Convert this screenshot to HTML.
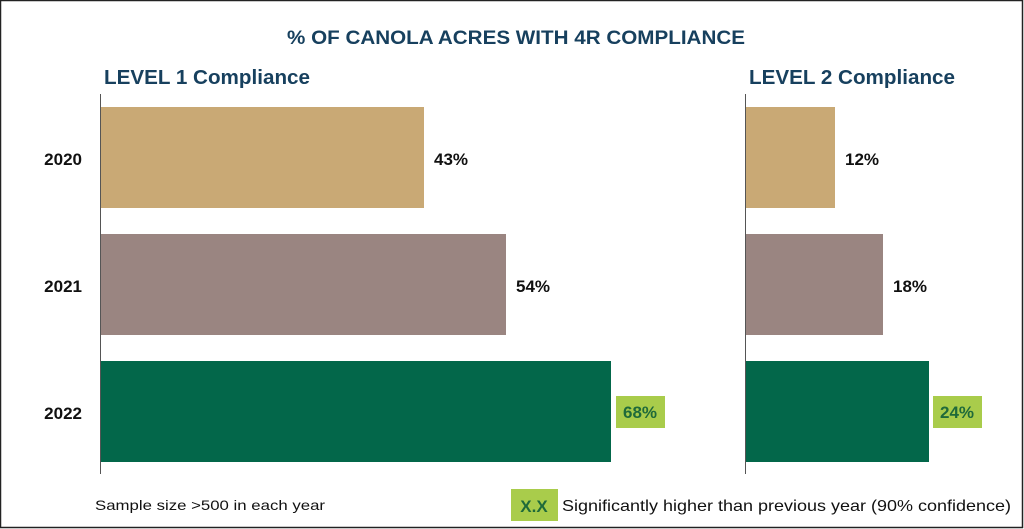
<!DOCTYPE html>
<html><head><style>body{margin:0;background:#fff}svg{display:block}text{font-family:"Liberation Sans",sans-serif}</style></head><body>
<svg width="1024" height="529" xmlns="http://www.w3.org/2000/svg">
<rect x="0.5" y="0.5" width="1022" height="527" fill="#fff" stroke="#222" stroke-width="1.5"/>
<text x="287" y="44" textLength="458" lengthAdjust="spacingAndGlyphs" font-size="19" font-weight="bold" fill="#17405e">% OF CANOLA ACRES WITH 4R COMPLIANCE</text>
<text x="104" y="84" textLength="206" lengthAdjust="spacingAndGlyphs" font-size="20" font-weight="bold" fill="#17405e">LEVEL 1 Compliance</text>
<text x="749" y="84" textLength="206" lengthAdjust="spacingAndGlyphs" font-size="20" font-weight="bold" fill="#17405e">LEVEL 2 Compliance</text>
<line x1="100.5" y1="94" x2="100.5" y2="474" stroke="#555" stroke-width="1"/>
<line x1="745.5" y1="94" x2="745.5" y2="474" stroke="#555" stroke-width="1"/>
<rect x="101" y="107" width="323" height="101" fill="#c9a975"/>
<rect x="101" y="234" width="405" height="101" fill="#9a8581"/>
<rect x="101" y="361" width="510" height="101" fill="#03674a"/>
<rect x="746" y="107" width="89" height="101" fill="#c9a975"/>
<rect x="746" y="234" width="137" height="101" fill="#9a8581"/>
<rect x="746" y="361" width="183" height="101" fill="#03674a"/>
<g font-size="17" font-weight="bold" fill="#111">
<text x="82" y="165" text-anchor="end">2020</text>
<text x="82" y="292" text-anchor="end">2021</text>
<text x="82" y="419" text-anchor="end">2022</text>
<text x="434" y="165">43%</text>
<text x="516" y="292">54%</text>
<text x="845" y="165">12%</text>
<text x="893" y="292">18%</text>
</g>
<rect x="616" y="396" width="49" height="32" fill="#a9cc4b"/>
<rect x="933" y="396" width="49" height="32" fill="#a9cc4b"/>
<text x="640" y="418" text-anchor="middle" font-size="17" font-weight="bold" fill="#1f6a3a">68%</text>
<text x="957" y="418" text-anchor="middle" font-size="17" font-weight="bold" fill="#1f6a3a">24%</text>
<text x="95" y="510" textLength="230" lengthAdjust="spacingAndGlyphs" font-size="14" fill="#111">Sample size &gt;500 in each year</text>
<rect x="511" y="489" width="47" height="32" fill="#a9cc4b"/>
<text x="534" y="512" text-anchor="middle" font-size="17" font-weight="bold" fill="#1f6a3a">X.X</text>
<text x="562" y="511" textLength="449" lengthAdjust="spacingAndGlyphs" font-size="16" fill="#111">Significantly higher than previous year (90% confidence)</text>
</svg>
</body></html>
